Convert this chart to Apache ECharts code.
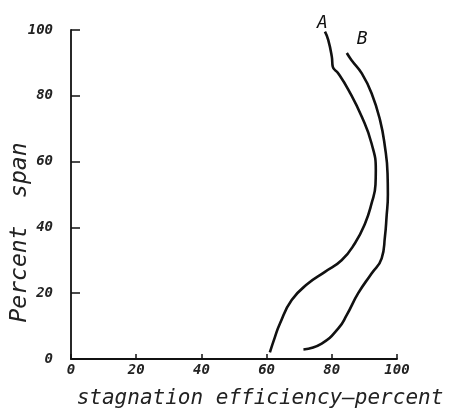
<!DOCTYPE html>
<html><head><meta charset="utf-8">
<script src="https://cdn.jsdelivr.net/npm/echarts@6/dist/echarts.min.js"></script>
<style>html,body{margin:0;padding:0;background:#fff}#c{width:455px;height:410px}</style>
</head><body><div id="c"></div>
<script>
// Curve A: [stagnation efficiency %, percent span]
const curveA = [[61,2],[62.5,6.5],[64.1,10.8],[67.7,17.9],[72.8,23],[77.9,26.5],[83,30],[87.1,35.2],[90.2,41.2],[92.2,47.3],[93.4,53],[93.5,57.4],[92.2,65.5],[89.2,73.6],[85.1,81.8],[82,86.8],[80.3,88.8],[80,91.9],[78.9,97],[77.9,99.5]];
// Curve B
const curveB = [[71.3,2.9],[76.9,4.7],[82,9.3],[84.6,13.4],[88.1,20],[92.2,26],[95.3,30.6],[96.3,37.2],[96.8,43.3],[97.2,50],[97.1,56.4],[96.3,64.5],[94.8,72.6],[92.2,80.8],[89.2,86.8],[86,90.9],[84.6,93]];
const seriesNames = ['A','B'];
const xTicks = [0,20,40,60,80,100];
const yTicks = [0,20,40,60,80,100];
const xTitle = 'stagnation efficiency\u2013percent';
const yTitle = 'Percent  span';

const font = '"DejaVu Sans Mono", monospace';
const chart = echarts.init(document.getElementById('c'));
const lineStyle = {color:'#111', width:2.6};
chart.setOption({
  animation:false,
  backgroundColor:'#fff',
  grid:{left:71, right:58, top:30, bottom:51, containLabel:false, outerBoundsMode:'none'},
  xAxis:{type:'value', min:xTicks[0], max:xTicks[xTicks.length-1], interval:20,
    axisLine:{lineStyle:{color:'#111', width:1.8}},
    axisTick:{inside:true, length:5, lineStyle:{color:'#111', width:1.5}},
    splitLine:{show:false},
    axisLabel:{color:'#222', fontSize:14, fontStyle:'italic', fontWeight:'bold', fontFamily:font, margin:4},
    name:xTitle, nameLocation:'middle', nameGap:29, nameMoveOverlap:false,
    nameTextStyle:{color:'#222', fontSize:21, fontStyle:'italic', fontFamily:font, padding:[0,0,0,52]}
  },
  yAxis:{type:'value', min:yTicks[0], max:yTicks[yTicks.length-1], interval:20,
    axisLine:{lineStyle:{color:'#111', width:1.8}},
    axisTick:{inside:true, length:9, lineStyle:{color:'#111', width:1.5}},
    splitLine:{show:false},
    axisLabel:{color:'#222', fontSize:14, fontStyle:'italic', fontWeight:'bold', fontFamily:font, margin:18},
    name:yTitle, nameLocation:'middle', nameGap:39, nameRotate:90, nameMoveOverlap:false,
    nameTextStyle:{color:'#222', fontSize:23, fontStyle:'italic', fontFamily:font, padding:[0,76,0,0]}
  },
  series:[
    {name:seriesNames[0], type:'line', data:curveA, smooth:0.5, symbol:'none', lineStyle:lineStyle,
     endLabel:{show:true, formatter:seriesNames[0], color:'#111', fontSize:18, fontStyle:'italic', fontFamily:font, offset:[-16,-8]}},
    {name:seriesNames[1], type:'line', data:curveB, smooth:0.5, symbol:'none', lineStyle:lineStyle,
     endLabel:{show:true, formatter:seriesNames[1], color:'#111', fontSize:18, fontStyle:'italic', fontFamily:font, offset:[2,-14]}}
  ]
});
</script></body></html>
